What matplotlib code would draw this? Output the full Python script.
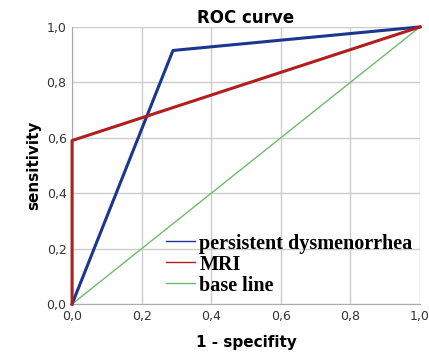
import matplotlib
matplotlib.use('Agg')
import matplotlib.pyplot as plt

ticks = [0.0, 0.2, 0.4, 0.6, 0.8, 1.0]
tick_labels = ['0,0', '0,2', '0,4', '0,6', '0,8', '1,0']

dys_x = [0.0, 0.29, 1.0]
dys_y = [0.0, 0.915, 1.0]
mri_x = [0.0, 0.0, 1.0]
mri_y = [0.0, 0.59, 1.0]
base_x = [0.0, 1.0]
base_y = [0.0, 1.0]

fig = plt.figure(figsize=(4.29, 3.54), dpi=100)
ax = fig.add_axes([0.168, 0.141, 0.811, 0.783])

ax.plot(dys_x, dys_y, color='#1c3591', linewidth=2.2, label='persistent dysmenorrhea',
        zorder=3, clip_on=False)
ax.plot(mri_x, mri_y, color='#b01e1e', linewidth=2.2, label='MRI', zorder=3, clip_on=False)
ax.plot(base_x, base_y, color='#6dbb6d', linewidth=1.0, label='base line', zorder=2)

ax.set_xlim(0, 1)
ax.set_ylim(0, 1)
ax.set_xticks(ticks)
ax.set_xticklabels(tick_labels)
ax.set_yticks(ticks)
ax.set_yticklabels(tick_labels)
ax.tick_params(labelsize=9, colors='#333333', length=0, pad=4)
ax.grid(True, color='#cccccc', linewidth=1.0)
ax.set_axisbelow(True)
for s in ['top', 'right']:
    ax.spines[s].set_visible(False)
for s in ['left', 'bottom']:
    ax.spines[s].set_color('#aaaaaa')

ax.set_title('ROC curve', fontsize=12, fontweight='bold', pad=3)
ax.set_xlabel('1 - specifity', fontsize=11, fontweight='bold', labelpad=9)
ax.set_ylabel('sensitivity', fontsize=11, fontweight='bold', labelpad=4)

leg = ax.legend(loc='lower left', bbox_to_anchor=(0.23, -0.02), frameon=False,
                prop={'family': 'Liberation Serif', 'weight': 'bold', 'size': 14.5},
                handlelength=1.45, handletextpad=0.2, labelspacing=0.05,
                borderaxespad=0.3)
for line in leg.get_lines():
    line.set_linewidth(1.0)

fig.savefig('out.png', dpi=100)
